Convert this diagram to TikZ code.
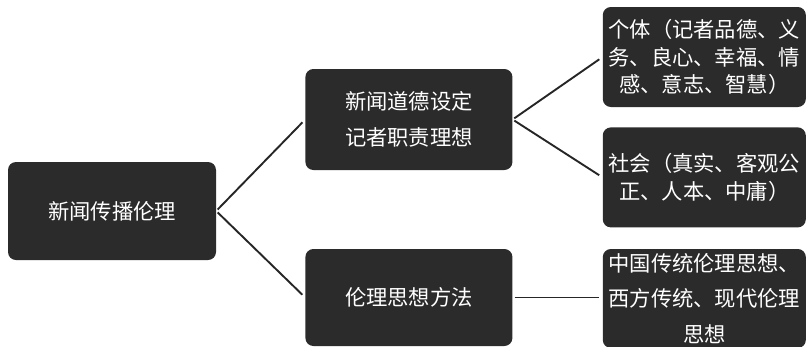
\documentclass[tikz,border=0pt]{standalone}
\usepackage{fontspec}
\newfontfamily\cjk{Noto Sans CJK SC}
\usepackage{tikz}
\usetikzlibrary{positioning}

\begin{document}
\begin{tikzpicture}[
  x=1pt,y=1pt,
  node distance=89pt and 89pt,
  mybox/.style={fill=black!83,rounded corners=8pt,text=white,align=center,
    inner sep=0pt,font=\cjk\fontsize{21.3}{35.5}\selectfont},
  tightbox/.style={mybox,font=\cjk\fontsize{21.3}{27.5}\selectfont},
  myline/.style={draw=black!85,line width=1.9pt,shorten <=2pt,shorten >=4pt}
]
\useasboundingbox (0,0) rectangle (808,-346);

\node[mybox,minimum width=208pt,minimum height=98pt] (root) at (112,-211) {新闻传播伦理};
\node[mybox,minimum width=207pt,minimum height=101pt,right=of root,yshift=91.5pt] (duty)
  {新闻道德设定\\记者职责理想};
\node[mybox,minimum width=207pt,minimum height=97pt,right=of root,yshift=-86.5pt] (method)
  {伦理思想方法};
\node[tightbox,minimum width=203pt,minimum height=100pt,right=90pt of duty,yshift=62.5pt] (person)
  {个体（记者品德、义\\务、良心、幸福、情\\感、意志、智慧）};
\node[tightbox,minimum width=203pt,minimum height=100pt,below=20pt of person] (society)
  {社会（真实、客观公\\正、人本、中庸）};
\node[mybox,minimum width=203pt,minimum height=99pt,right=90pt of method,yshift=-1pt] (thought)
  {中国传统伦理思想、\\西方传统、现代伦理\\思想};

\path (root.east) edge[myline] (duty.west)
(root.east) edge[myline] (method.west)
(duty.east) edge[myline] (person.west)
(duty.east) edge[myline] (society.west)
(method.east) edge[myline] (method.east -| thought.west)
;

\end{tikzpicture}
\end{document}
